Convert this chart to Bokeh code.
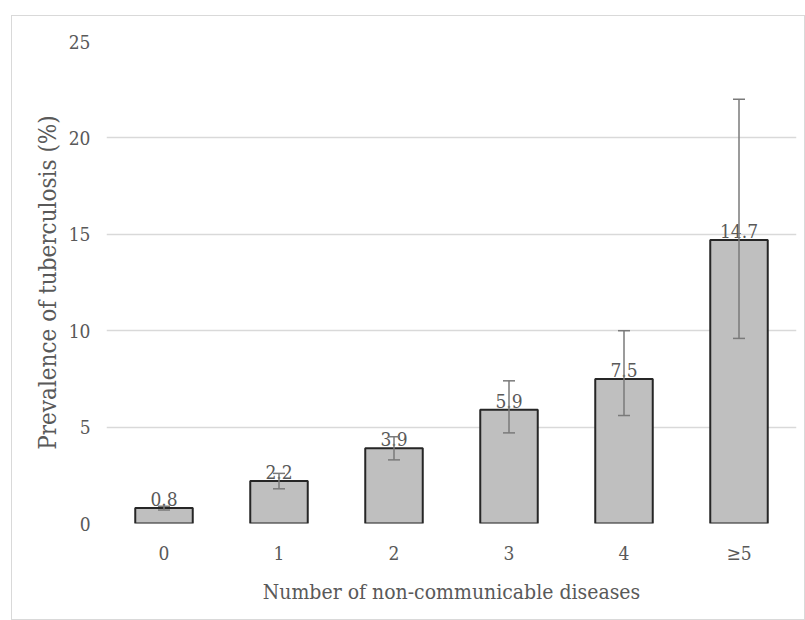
from bokeh.plotting import figure
from bokeh.models import ColumnDataSource, Whisker, TeeHead, FactorRange, Range1d, SingleIntervalTicker
from bokeh.embed import file_html
from bokeh.resources import INLINE

categories = ["0", "1", "2", "3", "4", "≥5"]
prevalence = [0.8, 2.2, 3.9, 5.9, 7.5, 14.7]
lower_ci = [0.7, 1.8, 3.3, 4.7, 5.6, 9.6]
upper_ci = [0.9, 2.6, 4.5, 7.4, 10.0, 22.0]
value_labels = ["0.8", "2.2", "3.9", "5.9", "7.5", "14.7"]

FONT = "'DejaVu Serif Condensed', 'Liberation Serif', serif"

src = ColumnDataSource(dict(cat=categories, val=prevalence, lo=lower_ci, hi=upper_ci, lab=value_labels))

p = figure(x_range=FactorRange(*categories, range_padding=0), y_range=Range1d(0, 25),
           width=794, height=605, output_backend="svg", toolbar_location=None,
           min_border_left=94, min_border_right=10, min_border_top=25, min_border_bottom=98)
p.x_range.factor_padding = 0
p.styles = {"border": "1px solid #d9d9d9", "margin": "15px 0px 0px 11px"}

p.vbar(x="cat", top="val", width=0.5, source=src, fill_color="#bfbfbf",
       line_color="#262626", line_width=2)

p.text(x="cat", y="val", text="lab", source=src, text_align="center", text_baseline="bottom",
       y_offset=-2, text_font_size="19px", text_color="#595959", text_font={"value": FONT})

w = Whisker(base="cat", lower="lo", upper="hi", source=src, line_color="#7a7a7a", line_width=1.5,
            upper_head=TeeHead(size=12, line_color="#7a7a7a", line_width=1.5),
            lower_head=TeeHead(size=12, line_color="#7a7a7a", line_width=1.5),
            level="overlay")
p.add_layout(w)

p.yaxis.ticker = SingleIntervalTicker(interval=5)
p.xgrid.grid_line_color = None
p.ygrid.grid_line_color = "#d9d9d9"
p.ygrid.grid_line_width = 1.5
p.outline_line_color = None

for ax in (p.xaxis, p.yaxis):
    ax.axis_line_color = None
    ax.major_tick_line_color = None
    ax.minor_tick_line_color = None
    ax.major_tick_out = 0
    ax.major_tick_in = 0
    ax.major_label_text_font = FONT
    ax.major_label_text_font_size = "19px"
    ax.major_label_text_color = "#595959"
    ax.axis_label_text_font = FONT
    ax.axis_label_text_color = "#595959"
    ax.axis_label_text_font_style = "normal"

p.xaxis.axis_label_text_font_size = "21px"
p.yaxis.axis_label_text_font_size = "24px"
p.xaxis.axis_label = "Number of non-communicable diseases"
p.yaxis.axis_label = "Prevalence of tuberculosis (%)"
p.xaxis.major_label_standoff = 18
p.xaxis.axis_label_standoff = 13
p.yaxis.major_label_standoff = 12
p.yaxis.axis_label_standoff = 4

open("out.html", "w").write(file_html(p, INLINE))
